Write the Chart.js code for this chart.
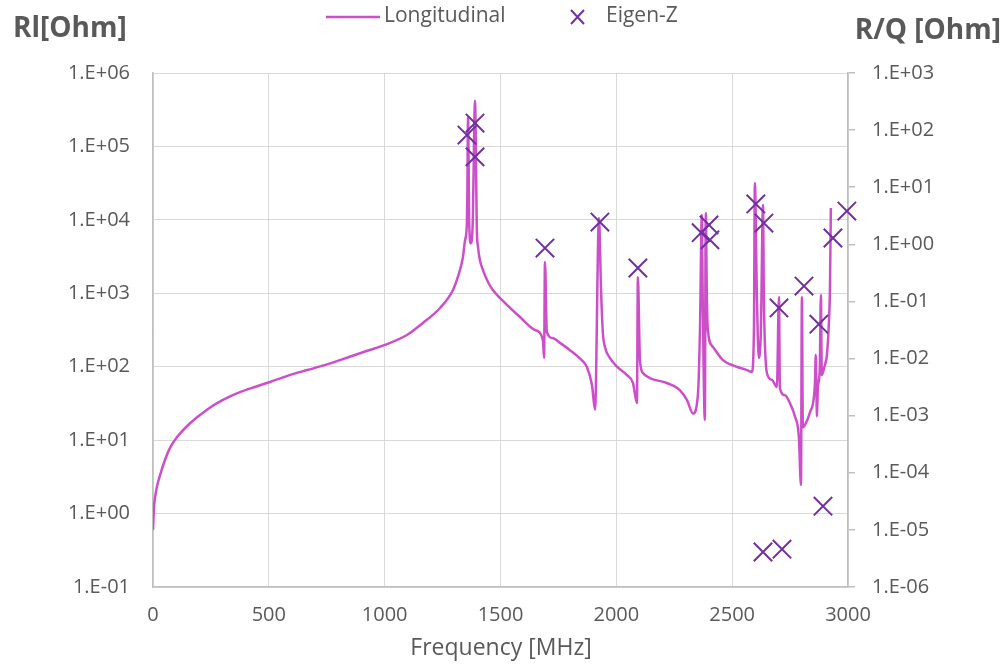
<!DOCTYPE html>
<html>
<head>
<meta charset="UTF-8">
<title>Longitudinal impedance</title>
<script src="https://cdn.jsdelivr.net/npm/chart.js@4"></script>
<style>
  html, body { margin: 0; padding: 0; background: #ffffff; }
  #wrap { width: 1005px; height: 664px; position: relative; }
</style>
</head>
<body>
<div id="wrap"><canvas id="chart" width="1005" height="664"></canvas></div>
<script>
// Longitudinal impedance Rl [Ohm]
var longFreq = [0, 2, 5, 10, 18, 30, 52, 73, 104, 160, 233, 300, 375, 440, 505, 580, 665, 740, 807, 900, 1001, 1096, 1165, 1239, 1295, 1316, 1338, 1347, 1355, 1357, 1360, 1365, 1372, 1380, 1390, 1398, 1403, 1411, 1424, 1446, 1467, 1519, 1584, 1649, 1683, 1688, 1692, 1700, 1726, 1760, 1800, 1840, 1873, 1895, 1908, 1925, 1934, 1942, 1951, 1972, 2003, 2046, 2072, 2089, 2093, 2102, 2115, 2145, 2218, 2274, 2305, 2331, 2352, 2361, 2369, 2373, 2382, 2386, 2391, 2395, 2417, 2460, 2512, 2564, 2585, 2594, 2598, 2607, 2615, 2624, 2633, 2637, 2650, 2672, 2693, 2702, 2706, 2728, 2749, 2771, 2788, 2797, 2801, 2805, 2814, 2836, 2857, 2861, 2866, 2870, 2878, 2883, 2887, 2900, 2909, 2918, 2922, 2926];
var longRl = [0.6, 0.85, 1.3, 1.75, 2.4, 3.3, 5.4, 7.8, 11, 17, 26, 35, 45, 53, 62, 75, 90, 105, 123, 155, 198, 270, 394, 630, 1110, 1670, 3120, 5300, 9060, 25500, 250000, 9000, 4800, 9000, 420000, 7300, 4270, 2840, 2080, 1425, 1110, 740, 475, 316, 231, 132, 2670, 297, 245, 208, 168, 132, 99, 56, 26, 10600, 1100, 288, 186, 132, 100, 77, 60, 32, 1670, 123, 82, 70, 60, 48, 35, 23, 41, 316, 11600, 810, 18.8, 12400, 810, 316, 186, 123, 102, 90, 85, 316, 31800, 810, 132, 316, 15900, 810, 82, 66, 53, 890, 51, 41, 32, 21, 11, 2.45, 890, 15, 16, 24, 56, 145, 21, 53, 90, 950, 77, 105, 145, 433, 1110, 14500];

// Eigenmode R/Q [Ohm]
var eigenFreq = [1355, 1390, 1390, 1692, 1929, 2093, 2366, 2400, 2404, 2602, 2637, 2702, 2810, 2874, 2935, 2995, 2633, 2715, 2892];
var eigenRQ = [82, 133, 34, 0.86, 2.45, 0.385, 1.6, 2.19, 1.2, 5.1, 2.36, 0.077, 0.186, 0.040, 1.29, 3.83, 4.1e-6, 4.6e-6, 2.6e-5];

var xTicks = [0, 500, 1000, 1500, 2000, 2500, 3000];
var leftDecades = [0.1, 1, 10, 100, 1e3, 1e4, 1e5, 1e6];
var rightDecades = [1e-6, 1e-5, 1e-4, 1e-3, 1e-2, 1e-1, 1, 10, 100, 1e3];

var lineColor = '#CC4FC9';
var markColor = '#7030A0';
var textColor = '#595959';
var gridColor = '#D9D9D9';
var fontFam = "'Open Sans', 'Noto Sans', sans-serif";

function sci(v) {
    var e = Math.round(Math.log10(v));
    var s = e < 0 ? '-' : '+';
    var a = Math.abs(e);
    return '1.E' + s + (a < 10 ? '0' + a : a);
}

var longData = longFreq.map(function(f, i) { return {x: f, y: longRl[i]}; });
var eigenData = eigenFreq.map(function(f, i) { return {x: f, y: eigenRQ[i]}; });

var extras = {
    id: 'extras',
    afterDraw: function(chart) {
        var ctx = chart.ctx;
        ctx.save();
        ctx.fillStyle = textColor;
        ctx.textBaseline = 'middle';
        // axis titles
        ctx.font = "bold 28px " + fontFam;
        ctx.textAlign = 'left';
        ctx.fillText('Rl[Ohm]', 13, 29);
        ctx.textAlign = 'right';
        ctx.fillText('R/Q [Ohm]', 1001, 31);
        ctx.font = "23px " + fontFam;
        ctx.textAlign = 'center';
        ctx.fillText('Frequency [MHz]', 501, 648);
        // legend
        ctx.strokeStyle = lineColor;
        ctx.lineWidth = 2.5;
        ctx.beginPath();
        ctx.moveTo(326, 17);
        ctx.lineTo(380, 17);
        ctx.stroke();
        ctx.font = "21px " + fontFam;
        ctx.textAlign = 'left';
        ctx.fillText('Longitudinal', 384, 16);
        ctx.strokeStyle = markColor;
        ctx.lineWidth = 2;
        ctx.beginPath();
        ctx.moveTo(571, 10); ctx.lineTo(584, 24);
        ctx.moveTo(584, 10); ctx.lineTo(571, 24);
        ctx.stroke();
        ctx.fillText('Eigen-Z', 606, 16);
        ctx.restore();
    }
};

new Chart(document.getElementById('chart'), {
    type: 'scatter',
    data: {
        datasets: [
            {
                label: 'Eigen-Z',
                data: eigenData,
                yAxisID: 'y2',
                pointStyle: 'crossRot',
                pointRadius: 13,
                pointBorderWidth: 2,
                borderColor: markColor,
                backgroundColor: markColor,
                showLine: false,
                clip: false,
                order: 1
            },
            {
                label: 'Longitudinal',
                data: longData,
                yAxisID: 'y',
                showLine: true,
                borderColor: lineColor,
                backgroundColor: lineColor,
                borderWidth: 2.5,
                pointRadius: 0,
                cubicInterpolationMode: 'monotone',
                order: 2
            }
        ]
    },
    options: {
        responsive: false,
        animation: false,
        layout: { padding: { top: 73, left: 0, right: 0, bottom: 0 } },
        plugins: { legend: { display: false }, tooltip: { enabled: false } },
        scales: {
            x: {
                type: 'linear',
                min: 0, max: 3000,
                afterBuildTicks: function(s) { s.ticks = xTicks.map(function(v) { return {value: v}; }); },
                afterFit: function(s) { s.height = 77; },
                grid: { color: gridColor, lineWidth: 1, drawTicks: false },
                border: { color: '#BFBFBF', width: 1.5 },
                ticks: { color: textColor, font: { family: fontFam, size: 20 }, padding: 16, maxRotation: 0,
                         callback: function(v) { return String(v); } }
            },
            y: {
                type: 'logarithmic',
                position: 'left',
                min: 0.1, max: 1e6,
                afterBuildTicks: function(s) { s.ticks = leftDecades.map(function(v) { return {value: v}; }); },
                afterFit: function(s) { s.width = 153; },
                grid: { color: gridColor, lineWidth: 1, drawTicks: false },
                border: { color: '#BFBFBF', width: 1.5 },
                ticks: { color: textColor, font: { family: fontFam, size: 20 }, padding: 23, callback: sci }
            },
            y2: {
                type: 'logarithmic',
                position: 'right',
                min: 1e-6, max: 1e3,
                afterBuildTicks: function(s) { s.ticks = rightDecades.map(function(v) { return {value: v}; }); },
                afterFit: function(s) { s.width = 157; },
                grid: { drawOnChartArea: false, color: '#BFBFBF', tickLength: 7, lineWidth: 1.5 },
                border: { color: '#BFBFBF', width: 1.5 },
                ticks: { color: textColor, font: { family: fontFam, size: 20 }, padding: 17, callback: sci }
            }
        }
    },
    plugins: [extras]
});
</script>
</body>
</html>
